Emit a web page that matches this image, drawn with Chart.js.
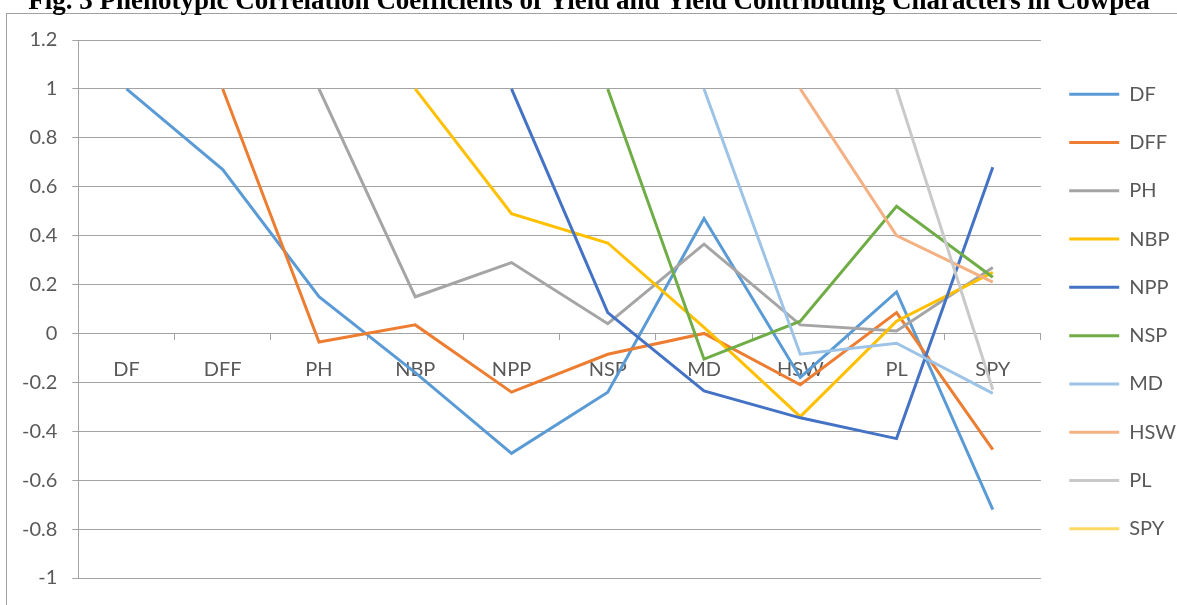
<!DOCTYPE html>
<html><head><meta charset="utf-8">
<script src="https://cdn.jsdelivr.net/npm/chart.js@4"></script>
<style>html,body{margin:0;padding:0;background:#fff;overflow:hidden}#wrap{width:1177px;height:605px;position:relative}</style>
</head><body><div id="wrap"><canvas id="c"></canvas></div>
<script>
const titleText = "Fig. 3 Phenotypic Correlation Coefficients of Yield and Yield Contributing Characters in Cowpea";
const categories = ["DF","DFF","PH","NBP","NPP","NSP","MD","HSW","PL","SPY"];
const yTicks = [1.2,1,0.8,0.6,0.4,0.2,0,-0.2,-0.4,-0.6,-0.8,-1];

const DF  = [1, 0.67, 0.15, -0.16, -0.49, -0.24, 0.47, -0.18, 0.17, -0.72];
const DFF = [null, 1, -0.035, 0.035, -0.24, -0.085, 0.0, -0.21, 0.085, -0.475];
const PH  = [null, null, 1, 0.15, 0.29, 0.04, 0.365, 0.035, 0.01, 0.27];
const NBP = [null, null, null, 1, 0.49, 0.37, 0.025, -0.34, 0.05, 0.25];
const NPP = [null, null, null, null, 1, 0.085, -0.235, -0.345, -0.43, 0.68];
const NSP = [null, null, null, null, null, 1, -0.105, 0.05, 0.52, 0.23];
const MD  = [null, null, null, null, null, null, 1, -0.085, -0.04, -0.245];
const HSW = [null, null, null, null, null, null, null, 1, 0.40, 0.21];
const PL  = [null, null, null, null, null, null, null, null, 1, -0.23];
const SPY = [null, null, null, null, null, null, null, null, null, 1];

const seriesNames = ["DF","DFF","PH","NBP","NPP","NSP","MD","HSW","PL","SPY"];
const seriesValues = [DF, DFF, PH, NBP, NPP, NSP, MD, HSW, PL, SPY];
const seriesColors = ["#5B9BD5","#ED7D31","#A5A5A5","#FFC000","#4472C4","#70AD47","#9DC3E6","#F4B183","#C9C9C9","#FFD966"];

const FONT = "Lato, 'Open Sans', sans-serif";
const TXT = "#595959";
const GRID = "#a3a3a3";

const frame = {
  id: 'frame',
  beforeDraw(chart) {
    const ctx = chart.ctx;
    ctx.save();
    ctx.fillStyle = '#fff';
    ctx.fillRect(0, 0, chart.width, chart.height);
    ctx.strokeStyle = '#a0a0a0';
    ctx.lineWidth = 1;
    ctx.strokeRect(6.5, 13.5, chart.width + 20, chart.height + 20);
    ctx.fillStyle = '#000';
    ctx.font = "bold 27px 'Liberation Serif', 'Times New Roman', serif";
    ctx.textAlign = 'center';
    ctx.textBaseline = 'alphabetic';
    ctx.fillText(titleText, 589, 9);
    ctx.restore();
  }
};

const datasets = seriesNames.map((n, i) => ({
  label: n,
  data: seriesValues[i],
  borderColor: seriesColors[i],
  backgroundColor: seriesColors[i],
  borderWidth: 3,
  pointRadius: 0,
  pointHoverRadius: 0,
  tension: 0,
  fill: false,
  spanGaps: false,
  order: seriesNames.length - i
}));

new Chart(document.getElementById('c'), {
  type: 'line',
  data: { labels: categories, datasets },
  plugins: [frame],
  options: {
    responsive: true,
    maintainAspectRatio: false,
    animation: false,
    layout: { padding: { left: 7, top: 40, bottom: 22, right: -9 } },
    plugins: {
      title: { display: false },
      tooltip: { enabled: false },
      legend: {
        position: 'right',
        labels: {
          usePointStyle: true,
          pointStyle: 'line',
          pointStyleWidth: 50,
          boxHeight: 20,
          padding: 28.3,
          color: TXT,
          font: { family: FONT, size: 20 },
          sort: (a, b) => a.datasetIndex - b.datasetIndex
        }
      }
    },
    scales: {
      x: {
        type: 'category',
        position: { y: 0 },
        offset: true,
        grid: { display: true, drawOnChartArea: false, drawTicks: true, tickLength: 6, color: GRID, offset: true },
        border: { display: true, color: GRID },
        ticks: { color: TXT, font: { family: FONT, size: 20 }, padding: 18, maxRotation: 0, autoSkip: false }
      },
      y: {
        min: -1, max: 1.2,
        afterBuildTicks(scale) { scale.ticks = yTicks.slice().reverse().map(v => ({ value: v })); },
        grid: { color: GRID, tickLength: 6, drawTicks: true },
        border: { display: true, color: GRID },
        ticks: {
          color: TXT, font: { family: FONT, size: 20 }, padding: 15,
          callback: v => String(Math.round(v * 10) / 10)
        }
      }
    }
  }
});
</script></body></html>
